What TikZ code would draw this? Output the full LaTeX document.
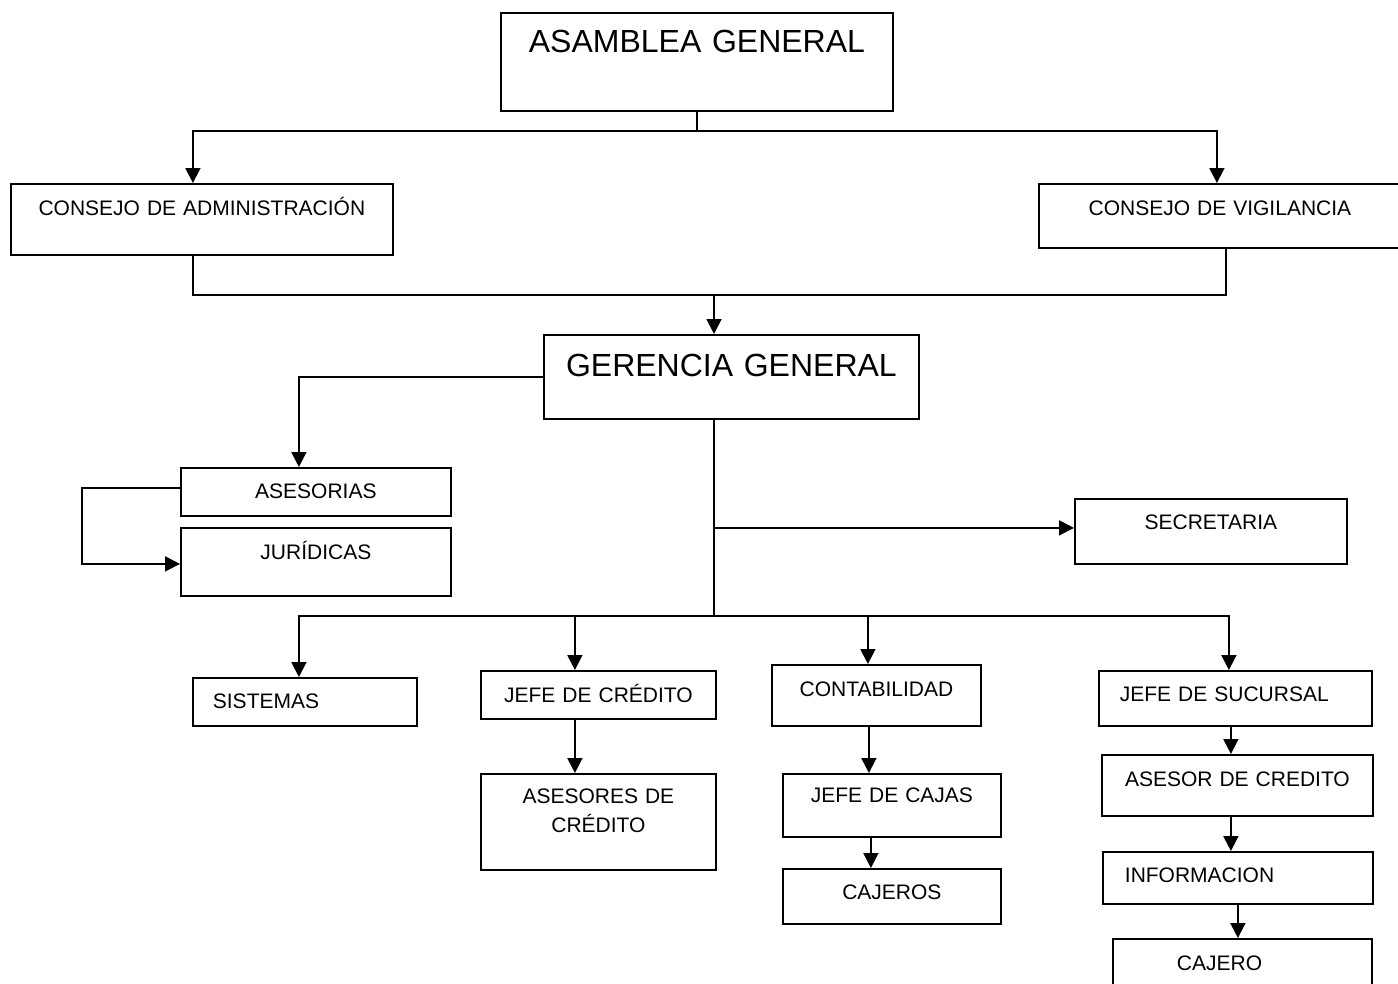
\documentclass[tikz,border=0pt]{standalone}
\usepackage{fontspec}
\setmainfont{Liberation Sans}
\usepackage{tikz}
\usetikzlibrary{arrows.meta,positioning}
\tikzset{org box/.style={draw, rectangle, line width=1.8pt, inner sep=0pt,
    anchor=north west, align=center, font=\fontsize{21}{29}\selectfont}}
\tikzset{big box/.style={org box, font=\fontsize{32}{38}\selectfont}}
\tikzset{left box/.style={org box, align=left, inner xsep=#1}}
\tikzset{org line/.style={line width=1.8pt}}
\tikzset{org arrow/.style={org line, -{Triangle[length=15pt,width=15pt]}}}

\begin{document}
\begin{tikzpicture}
      [x=1pt, y=-1pt]
      \useasboundingbox (0,0) rectangle (1398,983);

      % top level
      \node [big box, text width=392pt, text height=40pt, text depth=58pt] (asamblea)   at ( 500, 12) {ASAMBLEA GENERAL};
      \node [org box, text width=382pt, text height=32pt, text depth=39pt] (consejoAdm) at (  10,183) {CONSEJO DE ADMINISTRACIÓN};
      \node [org box, text width=362pt, text height=32pt, text depth=32pt] (consejoVig) at (1038,183) {CONSEJO DE VIGILANCIA};
      \node [big box, text width=375pt, text height=42pt, text depth=42pt] (gerencia)   at ( 543,334) {GERENCIA GENERAL};

      % staff
      \node [org box, text width=270pt, text height=31pt, text depth=17pt] (asesorias)  at ( 180,467) {ASESORIAS};
      \node [org box, text width=270pt, text height=32pt, text depth=36pt] (juridicas)  at ( 180,527) {JURÍDICAS};
      \node [org box, text width=272pt, text height=31pt, text depth=34pt] (secretaria) at (1074,498) {SECRETARIA};

      % departments
      \node [left box=20pt, text width=184pt, text height=31pt, text depth=17pt] (sistemas)     at ( 192,677) {SISTEMAS};
      \node [org box,       text width=235pt, text height=32pt, text depth=16pt] (jefeCredito)  at ( 480,670) {JEFE DE CRÉDITO};
      \node [org box,       text width=235pt, text height=30pt, text depth=66pt] (asesores)     at ( 480,773) {ASESORES DE\\CRÉDITO};
      \node [org box,       text width=209pt, text height=32pt, text depth=29pt] (contabilidad) at ( 771,664) {CONTABILIDAD};
      \node [org box,       text width=218pt, text height=29pt, text depth=34pt] (jefeCajas)    at ( 782,773) {JEFE DE CAJAS};
      \node [org box,       text width=218pt, text height=31pt, text depth=24pt] (cajeros)      at ( 782,868) {CAJEROS};
      \node [left box=21pt, text width=231pt, text height=31pt, text depth=24pt] (jefeSucursal) at (1098,670) {JEFE DE SUCURSAL};
      \node [org box,       text width=271pt, text height=32pt, text depth=29pt] (asesorCred)   at (1101,754) {ASESOR DE CREDITO};
      \node [left box=22pt, text width=226pt, text height=31pt, text depth=21pt] (informacion)  at (1102,851) {INFORMACION};
      \node [left box=64pt, text width=131pt, text height=32pt, text depth=25pt] (cajero)       at (1112,938) {CAJERO};

      \coordinate (midbus) at (714,295);
      \coordinate (lowbus) at (714,616);

      % asamblea to consejos
      \draw [org line]  (asamblea.south) -- ++(0,19) coordinate (topbus);
      \draw [org arrow] (topbus) -| ([xshift=-9pt]consejoAdm.north);
      \draw [org arrow] (topbus) -| ([xshift=-3pt]consejoVig.north);

      % consejos to gerencia
      \draw [org line]  ([xshift=-9pt]consejoAdm.south) |- (midbus) -| ([xshift=6pt]consejoVig.south);
      \draw [org arrow] (midbus) -- (midbus |- gerencia.north);

      % gerencia to staff
      \draw [org arrow] (gerencia.west) -| ([xshift=-17pt]asesorias.north);
      \draw [org arrow] ([yshift=4pt]asesorias.west) -- ++(-98,0) |- ([yshift=-2pt]juridicas.west);
      \draw [org line]  (lowbus |- gerencia.south) -- (lowbus);
      \draw [org arrow] ([yshift=3.5pt]secretaria.west -| lowbus) -- ([yshift=3.5pt]secretaria.west);

      % gerencia to departments
      \draw [org arrow] (lowbus) -| ([xshift=-6pt]sistemas.north);
      \draw [org arrow] (lowbus) -| ([xshift=-6.5pt]jefeSucursal.north);
      \draw [org arrow] ([xshift=-23.5pt]jefeCredito.north |- lowbus) -- ([xshift=-23.5pt]jefeCredito.north);
      \draw [org arrow] ([xshift=-8.5pt]contabilidad.north |- lowbus) -- ([xshift=-8.5pt]contabilidad.north);

      % chains
      \draw [org arrow] ([xshift=-23.5pt]jefeCredito.south)  -- ([xshift=-23.5pt]asesores.north);
      \draw [org arrow] ([xshift=-7.5pt]contabilidad.south)  -- ([xshift=-7.5pt]contabilidad.south |- jefeCajas.north);
      \draw [org arrow] ([xshift=-21pt]jefeCajas.south)      -- ([xshift=-21pt]cajeros.north);
      \draw [org arrow] ([xshift=-4.5pt]jefeSucursal.south)  -- ([xshift=-4.5pt]jefeSucursal.south |- asesorCred.north);
      \draw [org arrow] ([xshift=-6.5pt]asesorCred.south)    -- ([xshift=-6.5pt]asesorCred.south |- informacion.north);
      \draw [org arrow] (informacion.south)                  -- (informacion.south |- cajero.north);
    \end{tikzpicture}
\end{document}
